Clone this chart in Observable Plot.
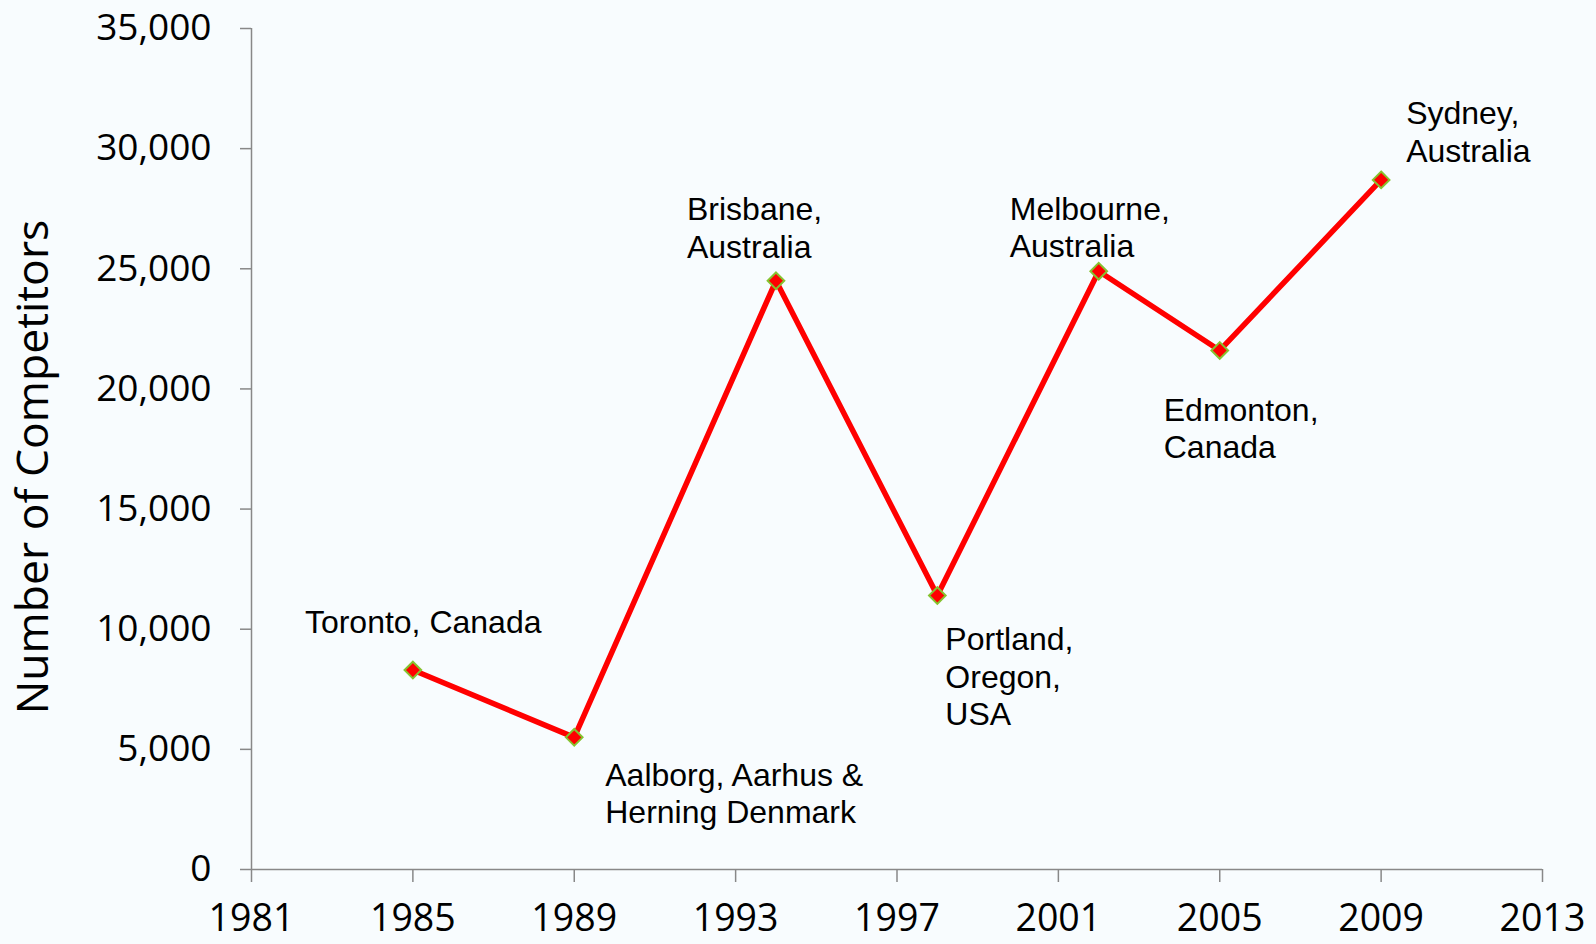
<!DOCTYPE html>
<html><head><meta charset="utf-8">
<script src="https://cdn.jsdelivr.net/npm/d3@7"></script>
<script src="https://cdn.jsdelivr.net/npm/@observablehq/plot@0.6"></script>
<style>
html,body{margin:0;padding:0;background:#f8fcfe;overflow:hidden;}
#chart svg{display:block;}
</style>
</head><body><div id="chart"></div>
<script>
const years = [1985, 1989, 1994, 1998, 2002, 2005, 2009];
const competitors = [8300, 5500, 24500, 11400, 24900, 21600, 28700];
const hosts = [
  "Toronto, Canada",
  "Aalborg, Aarhus &\nHerning Denmark",
  "Brisbane,\nAustralia",
  "Portland,\nOregon,\nUSA",
  "Melbourne,\nAustralia",
  "Edmonton,\nCanada",
  "Sydney,\nAustralia"
];
const xTicks = [1981, 1985, 1989, 1993, 1997, 2001, 2005, 2009, 2013];
const yTicks = [0, 5000, 10000, 15000, 20000, 25000, 30000, 35000];
const yTitle = "Number of Competitors";

// label placement offsets (pixels, relative to each point)
const labelDx = [-108, 31, -89, 8, -89, -56, 25];
const labelDy = [-64, 22, -87, 28, -78, 44, -82];

const data = years.map((y, i) => ({year: y, value: competitors[i], host: hosts[i]}));

const axisColor = "#888888";
const labelMarks = data.map((d, i) => Plot.text([d], {
  x: "year", y: "value", text: "host",
  dx: labelDx[i], dy: labelDy[i],
  textAnchor: "start", lineAnchor: "top", lineHeight: 1.17,
  fontFamily: "Liberation Sans, Arial, sans-serif", fontSize: 32, fill: "black"
}));

const chart = Plot.plot({
  width: 1596,
  height: 944,
  marginLeft: 251,
  marginRight: 54,
  marginTop: 28,
  marginBottom: 75,
  style: {background: "#f8fcfe", fontFamily: "Open Sans, sans-serif", color: "black"},
  x: {domain: [1981, 2013], type: "linear"},
  y: {domain: [0, 35000]},
  marks: [
    Plot.ruleX([1981], {y1: 0, y2: 35000, stroke: axisColor, strokeWidth: 1.5}),
    Plot.ruleY([0], {x1: 1981, x2: 2013, stroke: axisColor, strokeWidth: 1.5}),
    Plot.axisX({ticks: xTicks, tickFormat: d => String(d), tickSize: 13, tickPadding: 22,
      label: null, stroke: axisColor, strokeWidth: 1.5, fill: "black",
      fontSize: 37.5, fontFamily: "Open Sans, sans-serif"}),
    Plot.axisY({ticks: yTicks, tickFormat: d3.format(","), tickSize: 11, tickPadding: 29,
      label: null, stroke: axisColor, strokeWidth: 1.5, fill: "black",
      fontSize: 37, fontFamily: "Open Sans, sans-serif"}),
    Plot.text([yTitle], {text: d => d, frameAnchor: "left", rotate: -90, dx: -218, dy: 18,
      textAnchor: "middle", lineAnchor: "middle", fontSize: 44.5,
      fontFamily: "Open Sans, sans-serif", fill: "black"}),
    Plot.line(data, {x: "year", y: "value", stroke: "#ff0000", strokeWidth: 5.5}),
    Plot.dot(data, {x: "year", y: "value", symbol: "diamond2", r: 7.5, fill: "#ff0000",
      stroke: "#86c22f", strokeWidth: 2}),
    ...labelMarks
  ]
});
document.getElementById("chart").appendChild(chart);
</script>
</body></html>
